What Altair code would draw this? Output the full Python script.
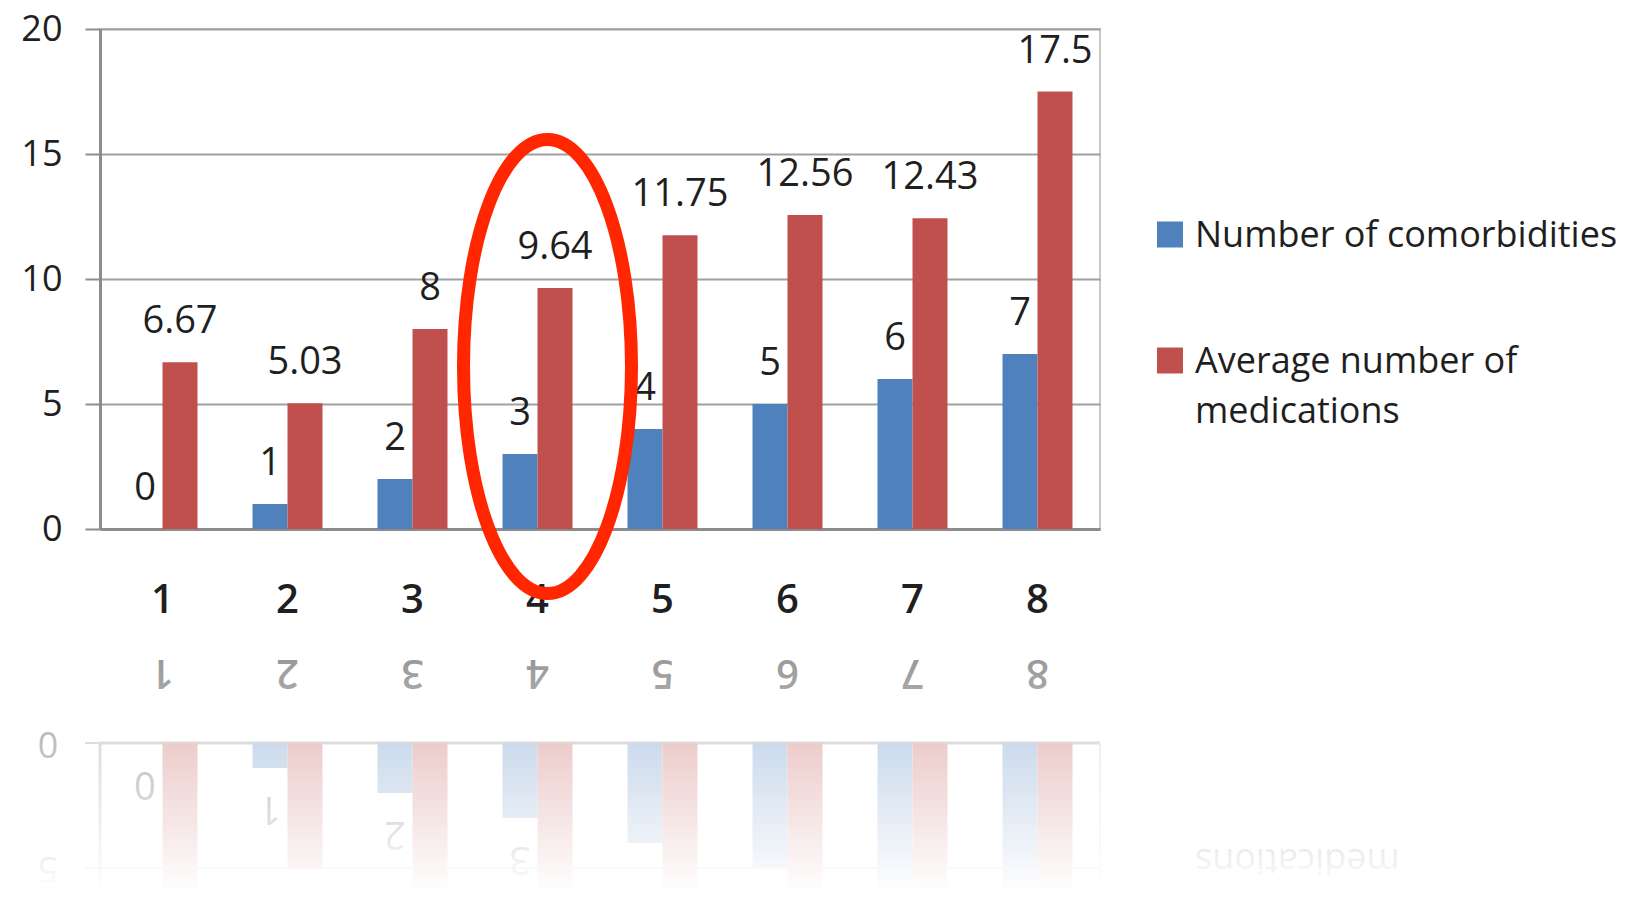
import altair as alt
import pandas as pd

# ---------------- data ----------------
categories = ["1", "2", "3", "4", "5", "6", "7", "8"]
comorbidities = [0, 1, 2, 3, 4, 5, 6, 7]
medications = [6.67, 5.03, 8, 9.64, 11.75, 12.56, 12.43, 17.5]
series = ["Number of comorbidities", "Average number of medications"]
legend_labels = ["Number of comorbidities", "Average number of\nmedications"]
y_ticks = [0, 5, 10, 15, 20]
highlight_category = "4"
highlight_center = 6.5

# ---------------- style ----------------
BLUE = "#4f81bd"
RED = "#c0504d"
FONT = "Open Sans"
TXT = "#1f1f1f"
GRID = "#a0a0a0"
AXIS = "#8c8c8c"
W, H = 1000, 500
REFL_LABEL_MAX = 3      # reflected labels further down fade out of the picture
REFL_TICK_MAX = 5
LEGEND_FS = 36

rows = []
for c, a, b in zip(categories, comorbidities, medications):
    rows.append({"category": c, "series": series[0], "value": a, "label": f"{a:g}"})
    rows.append({"category": c, "series": series[1], "value": b, "label": f"{b:g}"})
df = pd.DataFrame(rows)
cat_df = pd.DataFrame({"category": categories})
tick_df = pd.DataFrame({"tick": y_ticks, "label": [str(t) for t in y_ticks]})

x_enc = alt.X(
    "category:N", sort=categories,
    scale=alt.Scale(paddingInner=0.44, paddingOuter=0.22),
    axis=alt.Axis(title=None, labelAngle=0, labelFontSize=40, labelFontWeight=600,
                  labelFont=FONT, labelColor=TXT, labelBaseline="middle", labelPadding=71,
                  ticks=False, tickSize=0, domainColor=AXIS, domainWidth=3, grid=False),
)
xo_enc = alt.XOffset("series:N", sort=series, scale=alt.Scale(paddingInner=0, paddingOuter=0))
color_enc = alt.Color("series:N", sort=series,
                      scale=alt.Scale(domain=series, range=[BLUE, RED]), legend=None)

main_scale = alt.Scale(domain=[0, 20], nice=False, zero=True)
y_axis = alt.Axis(title=None, values=y_ticks, labelFontSize=36, labelFont=FONT, labelColor=TXT,
                  labelPadding=23, tickSize=15, tickColor=AXIS, tickWidth=2,
                  domainColor=AXIS, domainWidth=3, gridColor=GRID, gridWidth=2, grid=True)
y_main = alt.Y("value:Q", scale=main_scale, axis=y_axis)

# ---------------- main chart ----------------
bars = alt.Chart(df).mark_bar().encode(
    x=x_enc, xOffset=xo_enc, color=color_enc, y=y_main,
)
labels = alt.Chart(df).mark_text(baseline="middle", dy=-40, fontSize=38, font=FONT, color=TXT).encode(
    x=x_enc, xOffset=xo_enc, y=y_main, text="label:N",
)
k = 0.5523
rx = 0.37
ELLIPSE = (f"M0,-1 C{rx*k:.4f},-1 {rx},{-k} {rx},0 C{rx},{k} {rx*k:.4f},1 0,1 "
           f"C{-rx*k:.4f},1 {-rx},{k} {-rx},0 C{-rx},{-k} {-rx*k:.4f},-1 0,-1 Z")
ell_df = pd.DataFrame({"category": [highlight_category], "value": [highlight_center]})
ellipse = alt.Chart(ell_df).mark_point(
    shape=ELLIPSE, size=454 * 454, filled=False, color="#ff2600", strokeWidth=13,
    opacity=1, xOffset=10,
).encode(x=x_enc, y=y_main)
main = alt.layer(bars, labels, ellipse)

# ---------------- reflection ----------------
refl_scale = alt.Scale(domain=[-28.56, -8.56], reverse=True, nice=False, zero=False)
rbars = alt.Chart(df).mark_bar().encode(
    x=x_enc, xOffset=xo_enc, color=color_enc,
    y=alt.Y("value:Q", scale=refl_scale, axis=None), y2=alt.datum(0),
)
rlabels = alt.Chart(df).transform_filter(f"datum.value <= {REFL_LABEL_MAX}").mark_text(
    angle=180, baseline="middle", dy=-40, fontSize=38, font=FONT, color=TXT).encode(
    x=x_enc, xOffset=xo_enc,
    y=alt.Y("value:Q", scale=refl_scale, axis=None), text="label:N",
)
rgrid = alt.Chart(tick_df).mark_rule(color=GRID, strokeWidth=2).encode(
    y=alt.Y("tick:Q", scale=refl_scale, axis=None))
rticks = alt.Chart(tick_df).mark_rule(color=AXIS, strokeWidth=2).encode(
    x=alt.value(-15), x2=alt.value(0), y=alt.Y("tick:Q", scale=refl_scale, axis=None))
rbase = alt.Chart(tick_df.head(1)).mark_rule(color=AXIS, strokeWidth=3).encode(
    y=alt.Y("tick:Q", scale=refl_scale, axis=None))
rvert = alt.Chart(tick_df.head(1)).mark_rule(color=AXIS, strokeWidth=3).encode(
    x=alt.value(0), y=alt.Y("tick:Q", scale=refl_scale, axis=None), y2=alt.datum(20))
rright = alt.Chart(tick_df.head(1)).mark_rule(color="#c8c8c8", strokeWidth=2).encode(
    x=alt.value(W), y=alt.Y("tick:Q", scale=refl_scale, axis=None), y2=alt.datum(20))
rylabels = alt.Chart(tick_df).transform_filter(f"datum.tick <= {REFL_TICK_MAX}").mark_text(
    angle=180, align="center", baseline="middle", fontSize=36, font=FONT, color=TXT).encode(
    x=alt.value(-52), y=alt.Y("tick:Q", scale=refl_scale, axis=None), text="label:N")
rxlabels = alt.Chart(cat_df).mark_text(angle=180, baseline="middle", fontSize=40,
                                       fontWeight=600, font=FONT, color=TXT).encode(
    x=x_enc, y=alt.value(643), text="category:N")
rlegend = alt.Chart(pd.DataFrame({"t": [legend_labels[1].split("\n")[1]]})).mark_text(
    angle=180, align="right", baseline="alphabetic", fontSize=LEGEND_FS, font=FONT, color=TXT,
).encode(x=alt.value(1095), y=alt.value(820), text="t:N")

refl = alt.layer(rgrid, rticks, rbase, rvert, rright, rbars, rlabels, rylabels, rxlabels, rlegend)

fade = alt.Chart(pd.DataFrame({"k": [0]})).mark_rect(
    color=alt.Gradient(
        gradient="linear",
        stops=[alt.GradientStop(color="rgba(255,255,255,0.5)", offset=0),
               alt.GradientStop(color="#ffffff", offset=1)],
        x1=0, x2=0, y1=0, y2=1,
    )
).encode(x=alt.value(-100), x2=alt.value(1542), y=alt.value(607), y2=alt.value(865))

# ---------------- legend ----------------
legend_layers = []
sq_y = [205.5, 331.5]
txt_y = [218, 344]
for lab, col, sy, ty in zip(legend_labels, [BLUE, RED], sq_y, txt_y):
    legend_layers.append(
        alt.Chart(pd.DataFrame({"k": [0]})).mark_square(size=676, color=col, opacity=1).encode(
            x=alt.value(1070), y=alt.value(sy)))
    for j, line in enumerate(lab.split("\n")):
        legend_layers.append(
            alt.Chart(pd.DataFrame({"t": [line]})).mark_text(
                align="left", baseline="alphabetic", fontSize=LEGEND_FS, font=FONT, color=TXT,
            ).encode(x=alt.value(1095), y=alt.value(ty + 50 * j), text="t:N"))
legend = alt.layer(*legend_layers)

chart = alt.layer(refl, fade, main, legend).resolve_scale(y="independent").properties(
    width=W, height=H,
    autosize=alt.AutoSizeParams(type="none"),
    padding={"left": 92, "top": 21, "right": 532, "bottom": 360},
    background="white",
).configure_view(stroke="#c8c8c8", strokeWidth=2)

chart.save("out.html", embed_options={"renderer": "svg", "actions": False})
